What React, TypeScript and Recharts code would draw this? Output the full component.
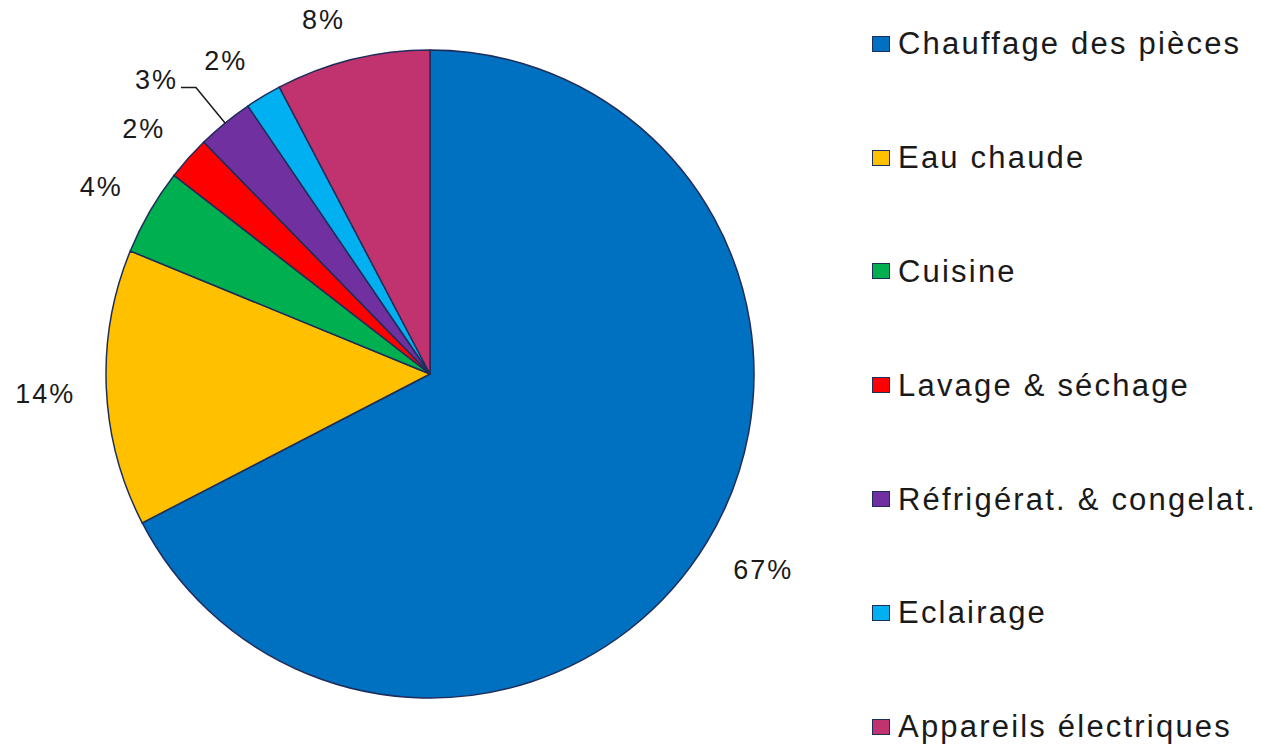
import React from 'react';
import { PieChart, Pie, Cell, Legend } from 'recharts';

const categories = [
  'Chauffage des pièces',
  'Eau chaude',
  'Cuisine',
  'Lavage & séchage',
  'Réfrigérat. & congelat.',
  'Eclairage',
  'Appareils électriques',
];
const shares = [67.4, 13.8, 4.3, 2.2, 2.8, 1.8, 7.7];
const colors = ['#0070c0', '#ffc000', '#00b050', '#ff0000', '#7030a0', '#00b0f0', '#c0336f'];
const leaderLabels = ['Réfrigérat. & congelat.'];

const data = categories.map((name, i) => ({ name, value: shares[i], fill: colors[i] }));

const FONT = '"Liberation Sans", Arial, sans-serif';
const RAD = Math.PI / 180;
const TEXT_COLOR = '#1a1a1a';
const BORDER = '#1f2d5a';

function renderLabel(props: any) {
  const { cx, cy, midAngle, outerRadius, value, name } = props;
  const cos = Math.cos(-midAngle * RAD);
  const sin = Math.sin(-midAngle * RAD);
  const text = `${Math.round(value)}%`;
  const style: React.CSSProperties = { fontFamily: FONT, fontSize: 27, letterSpacing: 2 };
  const anchor = cos < 0 ? 'end' : 'start';
  if (leaderLabels.includes(name)) {
    const sx = cx + outerRadius * cos;
    const sy = cy + outerRadius * sin;
    const ex = cx + (outerRadius + 46) * cos;
    const ey = cy + (outerRadius + 46) * sin;
    const hx = ex + (cos < 0 ? -15 : 15);
    return (
      <g>
        <polyline
          points={`${sx},${sy} ${ex},${ey} ${hx},${ey}`}
          fill="none"
          stroke={TEXT_COLOR}
          strokeWidth={1.5}
        />
        <text x={hx + (cos < 0 ? -3 : 3)} y={ey + 2} textAnchor={anchor} fill={TEXT_COLOR} style={style}>
          {text}
        </text>
      </g>
    );
  }
  const r = outerRadius + 31;
  const px = cx + r * cos;
  const py = cy + r * sin;
  const cap = 20;
  let baseline: number;
  if (sin < -0.3) baseline = py;
  else if (sin > 0.3) baseline = py + cap;
  else baseline = py + cap / 2 + 3;
  return (
    <text x={px} y={baseline} textAnchor={anchor} fill={TEXT_COLOR} style={style}>
      {text}
    </text>
  );
}

function renderLegend(props: any) {
  const payload: any[] = props.payload || [];
  const items = categories.map((c, i) => {
    const p = payload.find((e: any) => e.value === c);
    return { label: c, color: p && p.color ? p.color : colors[i] };
  });
  return (
    <div>
      {items.map((it) => (
        <div key={it.label} style={{ height: 113.8, display: 'flex', alignItems: 'center' }}>
          <span
            style={{
              display: 'inline-block',
              width: 16,
              height: 14,
              border: `1.5px solid ${BORDER}`,
              background: it.color,
              marginRight: 8,
              flex: 'none',
            }}
          />
          <span
            style={{
              fontFamily: FONT,
              fontSize: 31,
              letterSpacing: 2.2,
              color: TEXT_COLOR,
              whiteSpace: 'nowrap',
              lineHeight: 1,
            }}
          >
            {it.label}
          </span>
        </div>
      ))}
    </div>
  );
}

export default function App() {
  return (
    <div style={{ position: 'absolute', left: 0, top: 0, width: 1261, height: 744, overflow: 'hidden' }}>
      <PieChart width={1261} height={744}>
        <Pie
          data={data}
          dataKey="value"
          nameKey="name"
          cx={425}
          cy={369}
          outerRadius={324}
          startAngle={90}
          endAngle={-270}
          stroke={BORDER}
          strokeWidth={1.5}
          label={renderLabel}
          labelLine={false}
          isAnimationActive={false}
        >
          {data.map((d) => (
            <Cell key={d.name} fill={d.fill} />
          ))}
        </Pie>
        <Legend
          layout="vertical"
          content={renderLegend}
          wrapperStyle={{ left: 872, top: -13, width: 389, height: 797 }}
        />
      </PieChart>
    </div>
  );
}
